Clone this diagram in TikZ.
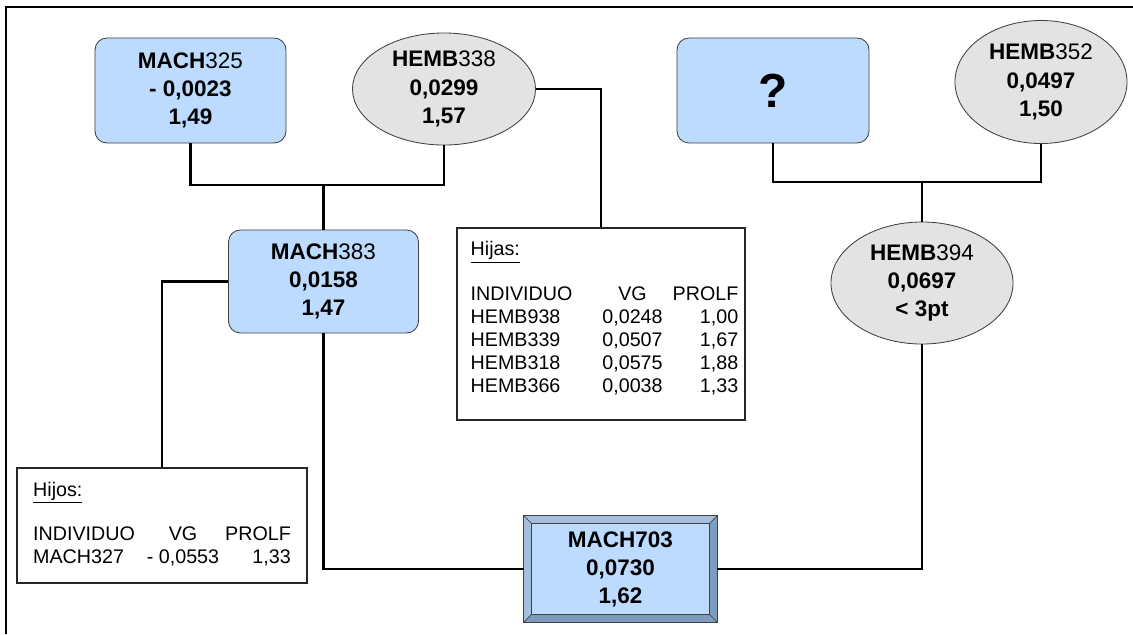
\documentclass[tikz,border=0pt]{standalone}
\usepackage{fontspec}
\setmainfont{Liberation Sans}
\usetikzlibrary{shapes.geometric, positioning, calc}
\definecolor{malebg}{HTML}{BDDBFF}
\definecolor{femalebg}{HTML}{E3E3E3}
\definecolor{edge}{HTML}{404040}
\definecolor{bevellt}{HTML}{A6BFDC}
\definecolor{beveldk}{HTML}{7E9CBF}
\newcommand{\nodefont}{\fontsize{16}{20}\selectfont\bfseries}
\newcommand{\tablefont}{\fontsize{14}{16.4}\selectfont}
\newcommand{\bevelsize}{0.2cm}
\tikzset{
    male/.style={rectangle, rounded corners=0.3cm, draw=edge, line width=0.6pt, fill=malebg,
                 minimum width=4.775cm, minimum height=2.625cm, align=center, font=\nodefont},
    bevelbox/.style={rectangle, draw=edge, line width=0.6pt, fill=malebg,
                 minimum width=4.825cm, minimum height=2.65cm, align=center, font=\nodefont},
    female/.style={ellipse, draw=edge, line width=0.6pt, fill=femalebg, inner sep=0pt,
                 align=center, font=\nodefont},
    offspring/.style={rectangle, draw=black!85, line width=0.8pt, fill=white, inner sep=0pt,
                 font=\tablefont},
    link/.style={line width=1.9pt, black},
    frame/.style={line width=2.1pt, black},
}

\begin{document}
\begin{tikzpicture}[x=0.025cm, y=-0.025cm]

  \useasboundingbox (0,0) rectangle (1133,634);
  \draw[frame] (1133,7) -| (6,634);

  \node[male] (m325) at (190.5,90.5)
        {MACH{\mdseries 325}\\- 0,0023\\1,49};

  \node[female, minimum width=4.575cm, minimum height=2.8cm] (h338) at (444,89)
        {HEMB{\mdseries 338}\\0,0299\\1,57};

  \node[male, minimum width=4.75cm, minimum height=2.575cm] (m383) at (323.5,281.5)
        {MACH{\mdseries 383}\\0,0158\\1,47};

  \node[male, minimum width=4.8cm, font=\fontsize{34}{40}\selectfont\bfseries] (q) at (773,90.5) {?};

  \node[female, minimum width=4.3cm, minimum height=3.075cm] (h352) at (1041,82)
        {HEMB{\mdseries 352}\\0,0497\\1,50};

  \node[female, minimum width=4.55cm, minimum height=3.05cm] (h394) at (922,283)
        {HEMB{\mdseries 394}\\0,0697\\< 3pt};

  \node[offspring, minimum width=7.2cm, minimum height=4.8cm] (hijas) at (601,324)
        {\begin{tabular}{@{\hspace{0.175cm}}l@{\hspace{0.75cm}}c@{\hspace{0.25cm}}r@{}}
           \multicolumn{3}{@{\hspace{0.175cm}}l}{\underline{Hijas:}}\\[0.525cm]
           INDIVIDUO & VG & PROLF\\
           HEMB938 & 0,0248 & 1,00\\
           HEMB339 & 0,0507 & 1,67\\
           HEMB318 & 0,0575 & 1,88\\
           HEMB366 & 0,0038 & 1,33\\[0.225cm]
         \end{tabular}};

  \node[offspring, minimum width=7.25cm, minimum height=2.875cm] (hijos) at (162,525.5)
        {\begin{tabular}{@{}l@{\hspace{0.3cm}}c@{\hspace{0.15cm}}r@{}}
           \multicolumn{3}{@{}l}{\underline{Hijos:}}\\[0.525cm]
           INDIVIDUO & VG & PROLF\\
           MACH327 & - 0,0553 & 1,33
         \end{tabular}};

  \node[bevelbox] (m703) at (620.5,569) {MACH703\\0,0730\\1,62};

  % bevel faces
  \filldraw[bevellt, draw=edge, line width=0.3pt] (m703.north west) -- (m703.north east)
        -- ($(m703.north east)+(-\bevelsize,-\bevelsize)$) -- ($(m703.north west)+(\bevelsize,-\bevelsize)$) -- cycle;
  \filldraw[bevellt, draw=edge, line width=0.3pt] (m703.north west) -- (m703.south west)
        -- ($(m703.south west)+(\bevelsize,\bevelsize)$) -- ($(m703.north west)+(\bevelsize,-\bevelsize)$) -- cycle;
  \filldraw[beveldk, draw=edge, line width=0.3pt] (m703.north east) -- (m703.south east)
        -- ($(m703.south east)+(-\bevelsize,\bevelsize)$) -- ($(m703.north east)+(-\bevelsize,-\bevelsize)$) -- cycle;
  \filldraw[beveldk, draw=edge, line width=0.3pt] (m703.south west) -- (m703.south east)
        -- ($(m703.south east)+(-\bevelsize,\bevelsize)$) -- ($(m703.south west)+(\bevelsize,\bevelsize)$) -- cycle;
  \draw[edge, line width=0.6pt] ($(m703.north west)+(\bevelsize,-\bevelsize)$) rectangle ($(m703.south east)+(-\bevelsize,\bevelsize)$);
  \draw[edge, line width=0.6pt] (m703.north west) rectangle (m703.south east);

  \coordinate (jl) at (323.5,185);
  \coordinate (jr) at (922,182);

  \draw[link] (m325.south) |- (jl) -| (h338.south);
  \draw[link] (jl) -- (m383.north);
  \draw[link] (h338.east) -| (hijas.north);
  \draw[link] (m383.west) -| (hijos.north);
  \draw[link] (m383.south) |- (m703.west);
  \draw[link] (q.south) |- (jr) -| (h352.south);
  \draw[link] (jr) -- (h394.north);
  \draw[link] (h394.south) |- (m703.east);

\end{tikzpicture}
\end{document}
